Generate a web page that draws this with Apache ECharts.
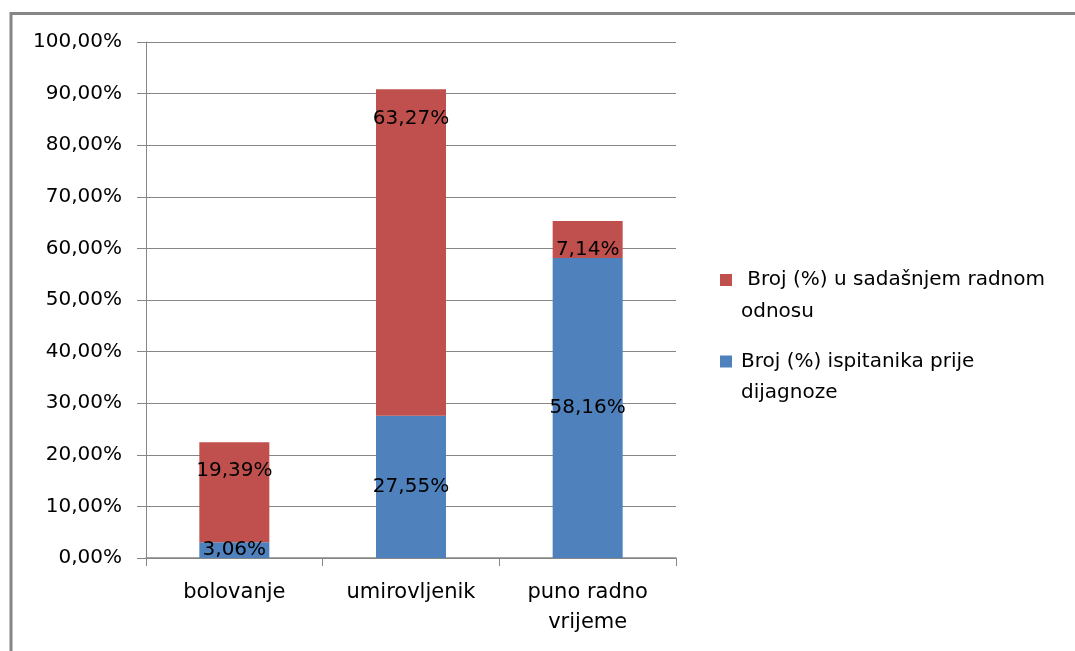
<!DOCTYPE html>
<html>
<head>
<meta charset="utf-8">
<script src="https://cdn.jsdelivr.net/npm/echarts@6/dist/echarts.min.js"></script>
<style>html,body{margin:0;padding:0;background:#fff;}#c{width:1075px;height:651px;}</style>
</head>
<body>
<div id="c"></div>
<script>
var categories = ['bolovanje', 'umirovljenik', 'puno radno\nvrijeme'];
var seriesNames = ['Broj (%) ispitanika prije dijagnoze', ' Broj (%) u sadašnjem radnom odnosu'];
var legendLabels = ['Broj (%) ispitanika prije\ndijagnoze', ' Broj (%) u sadašnjem radnom\nodnosu'];
var bluePrije = [3.06, 27.55, 58.16];
var redSadasnji = [19.39, 63.27, 7.14];
var yTicks = { min: 0, max: 100, interval: 10 };

var FONT = 'DejaVu Sans';
function pct(v) { return v.toFixed(2).replace('.', ',') + '%'; }

var chart = echarts.init(document.getElementById('c'));
chart.setOption({
  backgroundColor: '#fff',
  animation: false,
  textStyle: { fontFamily: FONT },
  graphic: [
    { type: 'line', shape: { x1: 10, y1: 13.5, x2: 1075, y2: 13.5 }, style: { stroke: '#868686', lineWidth: 3 } },
    { type: 'line', shape: { x1: 11, y1: 12, x2: 11, y2: 651 }, style: { stroke: '#868686', lineWidth: 3 } }
  ],
  grid: { left: 146, right: 399, top: 42, bottom: 93, containLabel: false },
  legend: [
    {
      data: [seriesNames[1]], orient: 'vertical', left: 715, top: 227,
      itemWidth: 12, itemHeight: 12, icon: 'rect',
      formatter: function () { return '\u00a0\n' + legendLabels[1]; },
      textStyle: { fontFamily: FONT, fontSize: 20, color: '#000', lineHeight: 32, padding: [0, 0, 0, 4] }
    },
    {
      data: [seriesNames[0]], orient: 'vertical', left: 715, top: 310,
      itemWidth: 12, itemHeight: 12, icon: 'rect',
      formatter: function () { return '\u00a0\n' + legendLabels[0]; },
      textStyle: { fontFamily: FONT, fontSize: 20, color: '#000', lineHeight: 31, padding: [0, 0, 0, 4] }
    }
  ],
  xAxis: {
    type: 'category',
    data: categories,
    boundaryGap: true,
    axisLine: { lineStyle: { color: '#868686', width: 1.5 } },
    axisTick: { show: true, length: 8, lineStyle: { color: '#868686' } },
    axisLabel: { color: '#000', fontSize: 21, fontFamily: FONT, margin: 20, lineHeight: 30 }
  },
  yAxis: {
    type: 'value',
    min: yTicks.min, max: yTicks.max, interval: yTicks.interval,
    axisLine: { show: true, lineStyle: { color: '#868686', width: 1 } },
    axisTick: { show: true, length: 9, lineStyle: { color: '#868686' } },
    splitLine: { lineStyle: { color: '#868686', width: 1 } },
    axisLabel: { color: '#000', fontSize: 20, fontFamily: FONT, margin: 24, formatter: pct }
  },
  series: [
    {
      name: seriesNames[0], type: 'bar', stack: 'a', data: bluePrije, barWidth: 70,
      itemStyle: { color: '#4F81BD' },
      label: { show: true, position: 'inside', color: '#000', fontSize: 20, fontFamily: FONT, formatter: function (p) { return pct(p.value); } }
    },
    {
      name: seriesNames[1], type: 'bar', stack: 'a', data: redSadasnji, barWidth: 70,
      itemStyle: { color: '#C0504D' },
      label: { show: true, position: 'insideTop', distance: 19, color: '#000', fontSize: 20, fontFamily: FONT, formatter: function (p) { return pct(p.value); } }
    }
  ]
});
</script>
</body>
</html>
